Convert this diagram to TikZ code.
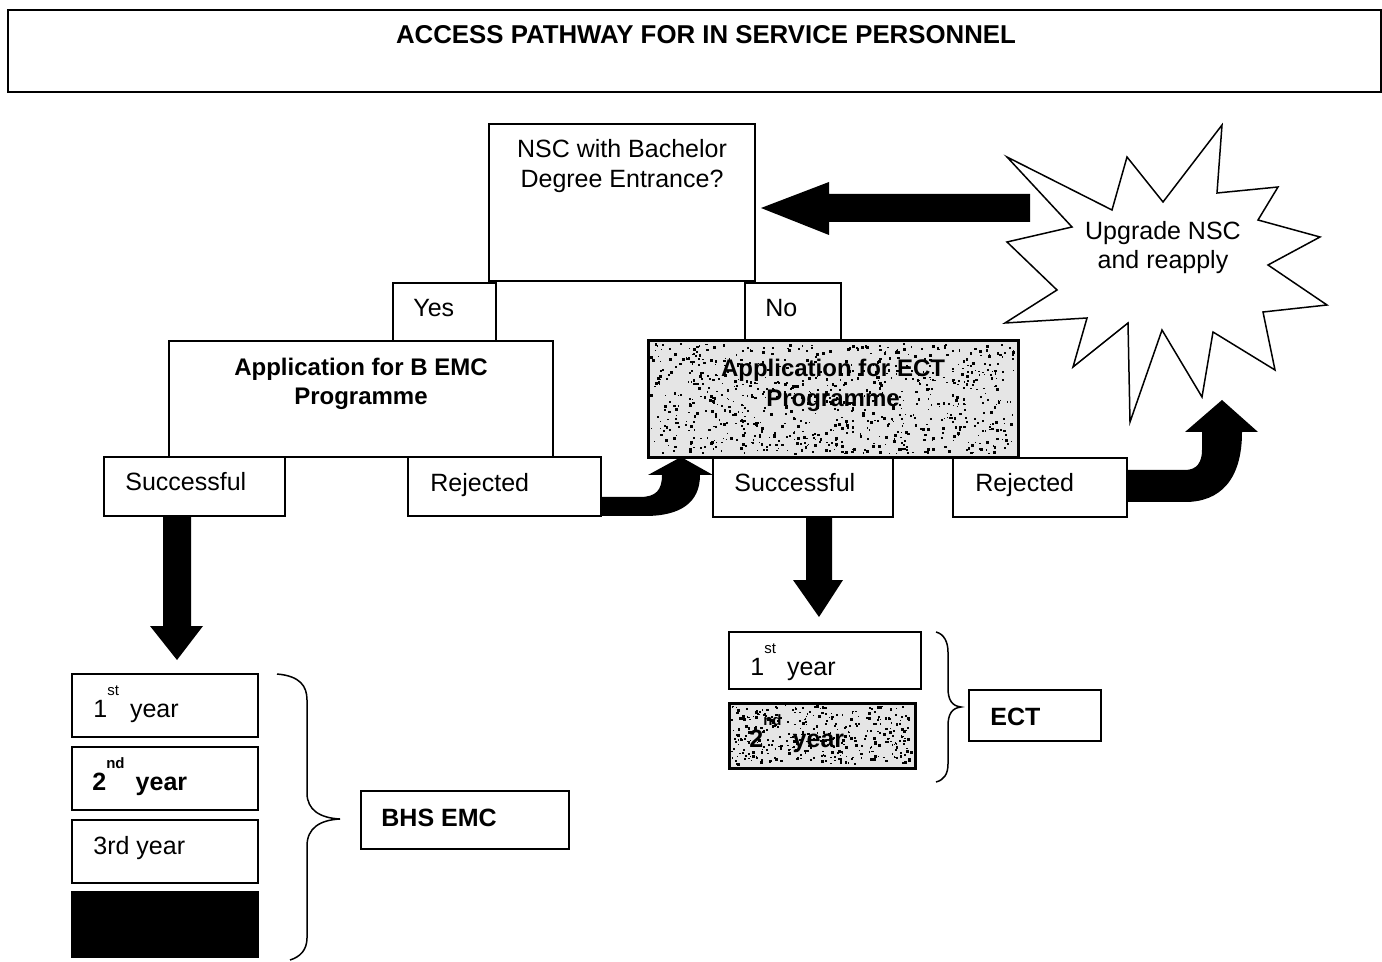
\documentclass[tikz,border=0pt]{standalone}
\usepackage{fontspec}
\setmainfont{Liberation Sans}
\usetikzlibrary{calc}

% a framed box given by its corners (in pixel units)
\newcommand\boxat[6]{%
  \node[#6, anchor=north west, outer sep=0pt, inner sep=0pt,
        minimum width={(#4-#2)*0.5pt}, minimum height={(#5-#3)*0.5pt}] (#1) at (#2,#3) {};}
% raised ordinal suffix
\newcommand\ordsup[1]{\raisebox{1.6ex}{\fontsize{7.5}{7.5}\selectfont #1}}
% scattered specks inside a rectangle
\newcommand\specks[5]{%
  \foreach \i in {1,...,#5}{%
    \pgfmathsetmacro\xx{#1+(#3-#1-3)*rnd}%
    \pgfmathsetmacro\yy{#2+(#4-#2-3)*rnd}%
    \pgfmathsetmacro\ss{1+2*rnd}%
    \fill[black] (\xx,\yy) rectangle ++(\ss,\ss);}}

\begin{document}
\begin{tikzpicture}[x=0.5pt,y=-0.5pt,
  frame/.style={draw=black, line width=0.75pt, fill=white},
  grainy/.style={draw=black, line width=1.5pt, fill=black!10},
  solidbox/.style={draw=black, line width=0.75pt, fill=black},
  txt/.style={inner sep=0pt, font=\fontsize{12.5}{15}\selectfont},
  btxt/.style={inner sep=0pt, font=\fontsize{12}{15}\selectfont\bfseries},
  blockarrow/.style={fill=black, draw=none},
  brace/.style={draw=black, line width=0.75pt}]

\useasboundingbox (0,0) rectangle (1382,962);
\fill[white] (0,0) rectangle (1382,962);

% heading
\boxat{title}{8}{10}{1381}{92}{frame}
\node[btxt, font=\fontsize{12.9}{15}\selectfont\bfseries, anchor=base] (titletext) at (706,44)
  {ACCESS PATHWAY FOR IN SERVICE PERSONNEL};

% entry question
\boxat{nsc}{489}{124}{755}{281}{frame}
\node[txt, anchor=base] (nscA) at (622,158) {NSC with Bachelor};
\node[txt, anchor=base] (nscB) at (622,188) {Degree Entrance?};

\boxat{yes}{393}{283}{496}{341}{frame}
\node[txt, anchor=base west] (yestext) at (413,317) {Yes};
\boxat{no}{745}{283}{841}{341}{frame}
\node[txt, anchor=base west] (notext) at (765,317) {No};

% applications
\boxat{appB}{169}{341}{553}{457}{frame}
\node[btxt, anchor=base] (appBa) at (361,376) {Application for B EMC};
\node[btxt, anchor=base] (appBb) at (361,405) {Programme};

\boxat{appE}{648}{341}{1018}{458}{grainy}
\pgfmathsetseed{17}
\specks{650}{343}{1016}{456}{850}
\node[btxt, anchor=base] (appEa) at (833,377) {Application for ECT};
\node[btxt, anchor=base] (appEb) at (833,407) {Programme};

% outcomes
\boxat{succL}{104}{457}{285}{516}{frame}
\node[txt, anchor=base west] (succLt) at (125,491) {Successful};
\boxat{rejL}{408}{457}{601}{516}{frame}
\node[txt, anchor=base west] (rejLt) at (430,492) {Rejected};
\boxat{succR}{713}{458}{893}{517}{frame}
\node[txt, anchor=base west] (succRt) at (734,492) {Successful};
\boxat{rejR}{953}{458}{1127}{517}{frame}
\node[txt, anchor=base west] (rejRt) at (975,492) {Rejected};

% upgrade burst
\draw[black, line width=0.75pt, fill=white]
  (1007,157) -- (1112,210) -- (1127,157) -- (1163,202) -- (1222,125) -- (1217,193)
  -- (1278,187) -- (1258,220) -- (1320,237) -- (1268,265) -- (1327,305) -- (1263,312)
  -- (1275,370) -- (1213,332) -- (1202,397) -- (1162,330) -- (1130,422) -- (1128,323)
  -- (1073,367) -- (1087,318) -- (1005,323) -- (1057,290) -- (1007,242) -- (1072,227)
  -- cycle;
\node[txt, anchor=base] (burstA) at (1163,240) {Upgrade NSC};
\node[txt, anchor=base] (burstB) at (1163,269) {and reapply};

% return arrow towards the question
\fill[blockarrow] (1030,194) -- (829,194) -- (829,182) -- (761,208) -- (829,235)
  -- (829,222) -- (1030,222) -- cycle;

% bent arrow: rejected B EMC -> ECT application
\fill[blockarrow] (rejL.east |- 0,497) -- (640,497) .. controls (656,497) and (662,490) .. (662,475)
  -- (648,475) -- (681,457) -- (713,475) -- (700,475)
  .. controls (700,503) and (680,516) .. (645,516) -- (rejL.east |- 0,516) -- cycle;

% bent arrow: rejected ECT -> upgrade
\fill[blockarrow] (rejR.east |- 0,470) -- (1185,470) .. controls (1197,470) and (1202,462) .. (1202,450)
  -- (1202,432) -- (1185,432) -- (1222,400) -- (1258,432) -- (1242,432)
  .. controls (1242,480) and (1220,502) .. (1185,502) -- (rejR.east |- 0,502) -- cycle;

% down arrows
\fill[blockarrow] (163,516) -- (191,516) -- (191,626) -- (203,626) -- (177,660)
  -- (150,626) -- (163,626) -- cycle;
\fill[blockarrow] (806,517) -- (832,517) -- (832,580) -- (843,580) -- (819,617)
  -- (793,580) -- (806,580) -- cycle;

% B EMC years
\boxat{y1L}{72}{674}{258}{737}{frame}
\node[txt, anchor=base west] (y1Lt) at (93,717) {1\ordsup{st}\, year};
\boxat{y2L}{72}{747}{258}{810}{frame}
\node[txt, anchor=base west, font=\fontsize{12.5}{15}\selectfont\bfseries] (y2Lt) at (92,790) {2\ordsup{nd}\, year};
\boxat{y3L}{72}{820}{258}{883}{frame}
\node[txt, anchor=base west] (y3Lt) at (93,854) {3rd year};
\boxat{y4L}{72}{892}{258}{957}{solidbox}

\draw[brace] (277,674) .. controls (300,676) and (307,686) .. (307,700) -- (307,793)
  .. controls (307,810) and (320,818) .. (340,819)
  .. controls (320,820) and (307,828) .. (307,846) -- (307,938)
  .. controls (307,950) and (300,957) .. (290,960);
\boxat{bhs}{361}{791}{569}{849}{frame}
\node[btxt, font=\fontsize{12.5}{15}\selectfont\bfseries, anchor=base west] (bhst) at (381,826) {BHS EMC};

% ECT years
\boxat{y1R}{729}{632}{921}{689}{frame}
\node[txt, anchor=base west] (y1Rt) at (750,675) {1\ordsup{st}\, year};
\boxat{y2R}{729}{703}{915}{768}{grainy}
\specks{731}{705}{913}{766}{380}
\node[txt, anchor=base west, font=\fontsize{12.5}{15}\selectfont\bfseries] (y2Rt) at (749,747) {2\ordsup{nd}\, year};

\draw[brace] (936,632) .. controls (944,634) and (948,642) .. (948,652) -- (948,688)
  .. controls (948,700) and (952,706) .. (961,707)
  .. controls (952,708) and (948,714) .. (948,726) -- (948,764)
  .. controls (948,774) and (944,780) .. (936,782);
\boxat{ect}{969}{690}{1101}{741}{frame}
\node[btxt, font=\fontsize{12.5}{15}\selectfont\bfseries, anchor=base west] (ectt) at (990,725) {ECT};

\end{tikzpicture}
\end{document}
